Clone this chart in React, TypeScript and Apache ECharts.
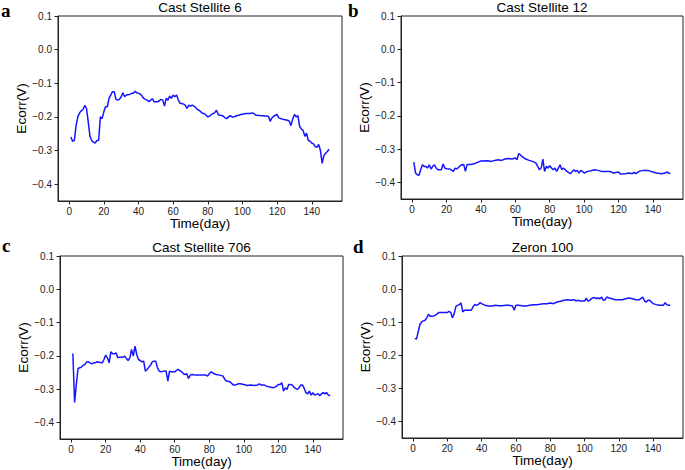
import React, { useEffect, useRef } from "react";
import * as echarts from "echarts";

// ---------- data ----------
const xTicks = [0, 20, 40, 60, 80, 100, 120, 140];
const yTicks = [-0.4, -0.3, -0.2, -0.1, 0.0, 0.1];
const panelTitles = ["Cast Stellite 6", "Cast Stellite 12", "Cast Stellite 706", "Zeron 100"];
const panelLetters = ["a", "b", "c", "d"];

const daysA = [1,2,3,4,5,6,7,8,9,10,11,12,13,14,15,16,17,18,19,20,21,22,23,24,25,26,27,28,29,30,31,32,33,34,35,36,37,38,39,40,41,42,43,44,45,46,47,48,49,50,51,52,53,54,55,56,57,58,59,60,61,62,63,64,65,66,67,68,69,70,71,72,73,74,75,76,77,78,79,80,81,82,83,84,85,86,87,88,89,90,91,92,93,94,95,96,97,98,99,100,102,104,106,107,108,110,113,115,116,117,118,119,120,121,122,124,126,127,128,129,130,131,132,133,134,135,136,137,138,139,140,141,142,143,144,145,146,147,148,149,150];
const valsA = [-0.260,-0.273,-0.270,-0.225,-0.200,-0.188,-0.182,-0.178,-0.166,-0.175,-0.215,-0.258,-0.270,-0.275,-0.278,-0.270,-0.270,-0.200,-0.205,-0.185,-0.170,-0.170,-0.145,-0.135,-0.125,-0.125,-0.148,-0.150,-0.148,-0.140,-0.128,-0.140,-0.135,-0.134,-0.133,-0.130,-0.130,-0.124,-0.128,-0.130,-0.132,-0.138,-0.145,-0.148,-0.150,-0.155,-0.150,-0.146,-0.155,-0.155,-0.155,-0.152,-0.148,-0.150,-0.168,-0.145,-0.150,-0.138,-0.145,-0.135,-0.140,-0.135,-0.150,-0.160,-0.160,-0.162,-0.165,-0.175,-0.165,-0.168,-0.165,-0.168,-0.172,-0.178,-0.180,-0.185,-0.190,-0.190,-0.195,-0.200,-0.198,-0.193,-0.190,-0.188,-0.180,-0.193,-0.195,-0.196,-0.198,-0.203,-0.205,-0.200,-0.196,-0.200,-0.200,-0.198,-0.196,-0.195,-0.193,-0.192,-0.190,-0.190,-0.188,-0.192,-0.195,-0.196,-0.197,-0.198,-0.213,-0.203,-0.198,-0.195,-0.193,-0.203,-0.205,-0.208,-0.210,-0.212,-0.226,-0.206,-0.193,-0.200,-0.196,-0.228,-0.236,-0.240,-0.258,-0.248,-0.270,-0.272,-0.278,-0.280,-0.288,-0.290,-0.282,-0.300,-0.338,-0.315,-0.308,-0.303,-0.296];

const daysB = [1,2,3,4,5,6,7,8,9,10,11,12,13,14,15,16,17,18,19,20,22,24,25,26,28,29,30,31,32,34,36,38,40,44,46,48,50,52,54,56,58,60,61,62,63,64,66,68,70,72,73,74,75,76,77,78,79,80,81,82,83,84,85,86,87,88,89,90,92,94,95,96,97,98,99,100,102,104,106,108,110,112,115,117,120,121,124,126,128,129,130,132,134,137,140,142,145,147,148,150];
const valsB = [-0.339,-0.372,-0.377,-0.379,-0.362,-0.347,-0.352,-0.352,-0.357,-0.347,-0.360,-0.352,-0.347,-0.357,-0.362,-0.362,-0.362,-0.345,-0.357,-0.359,-0.360,-0.367,-0.357,-0.360,-0.350,-0.347,-0.346,-0.367,-0.346,-0.346,-0.344,-0.340,-0.336,-0.335,-0.337,-0.334,-0.332,-0.334,-0.330,-0.328,-0.330,-0.327,-0.332,-0.313,-0.318,-0.323,-0.330,-0.334,-0.337,-0.342,-0.352,-0.362,-0.357,-0.330,-0.367,-0.352,-0.357,-0.350,-0.357,-0.362,-0.357,-0.367,-0.357,-0.347,-0.362,-0.357,-0.362,-0.367,-0.374,-0.362,-0.367,-0.364,-0.372,-0.364,-0.367,-0.372,-0.367,-0.365,-0.362,-0.364,-0.367,-0.367,-0.367,-0.372,-0.369,-0.375,-0.374,-0.372,-0.374,-0.370,-0.374,-0.367,-0.364,-0.364,-0.369,-0.372,-0.374,-0.372,-0.369,-0.374];

const daysC = [1,2,3,4,5,6,7,8,9,10,11,12,13,14,15,16,18,19,20,21,22,23,24,25,26,27,28,30,31,32,33,34,35,36,37,38,39,40,41,42,43,44,45,46,47,48,49,50,51,52,54,55,56,57,58,60,61,62,64,65,66,67,68,69,70,72,74,76,78,79,80,81,83,84,86,88,89,90,92,94,95,97,98,100,102,104,106,108,109,110,112,113,115,117,118,119,120,121,122,123,124,125,126,127,128,129,130,131,132,133,134,135,136,137,138,139,140,141,142,143,144,145,146,147,148,149,150];
const valsC = [-0.193,-0.340,-0.286,-0.238,-0.236,-0.234,-0.228,-0.226,-0.218,-0.218,-0.221,-0.224,-0.221,-0.221,-0.218,-0.219,-0.221,-0.211,-0.198,-0.206,-0.221,-0.188,-0.194,-0.194,-0.191,-0.206,-0.204,-0.204,-0.201,-0.208,-0.214,-0.206,-0.181,-0.201,-0.171,-0.196,-0.211,-0.214,-0.218,-0.216,-0.246,-0.241,-0.234,-0.228,-0.218,-0.216,-0.216,-0.236,-0.246,-0.248,-0.246,-0.246,-0.276,-0.246,-0.248,-0.248,-0.244,-0.241,-0.248,-0.254,-0.256,-0.254,-0.268,-0.258,-0.256,-0.258,-0.258,-0.258,-0.258,-0.261,-0.254,-0.248,-0.254,-0.256,-0.258,-0.261,-0.271,-0.276,-0.278,-0.288,-0.288,-0.284,-0.284,-0.286,-0.289,-0.288,-0.289,-0.288,-0.284,-0.288,-0.288,-0.291,-0.294,-0.296,-0.294,-0.291,-0.286,-0.286,-0.281,-0.306,-0.296,-0.301,-0.286,-0.286,-0.288,-0.294,-0.298,-0.301,-0.296,-0.288,-0.288,-0.298,-0.311,-0.314,-0.306,-0.318,-0.311,-0.318,-0.316,-0.314,-0.320,-0.314,-0.311,-0.314,-0.311,-0.318,-0.320];

const daysD = [1,2,3,4,5,6,7,8,9,10,11,12,13,14,15,16,18,20,21,22,23,24,25,26,27,28,29,30,32,34,35,36,37,38,39,40,42,44,46,48,50,52,54,56,58,59,60,62,64,66,68,70,72,74,76,78,80,82,84,86,88,90,92,94,95,96,98,100,101,102,103,104,105,106,107,108,109,110,111,112,113,114,116,118,120,122,124,126,128,130,132,134,135,136,137,138,139,140,142,144,146,147,148,149,150];
const valsD = [-0.149,-0.151,-0.129,-0.107,-0.099,-0.096,-0.094,-0.087,-0.076,-0.082,-0.082,-0.081,-0.079,-0.075,-0.071,-0.071,-0.071,-0.071,-0.067,-0.071,-0.087,-0.074,-0.052,-0.049,-0.047,-0.042,-0.069,-0.064,-0.064,-0.064,-0.054,-0.046,-0.049,-0.047,-0.041,-0.044,-0.049,-0.051,-0.051,-0.049,-0.050,-0.050,-0.049,-0.049,-0.051,-0.064,-0.049,-0.049,-0.051,-0.051,-0.049,-0.047,-0.047,-0.046,-0.044,-0.044,-0.042,-0.044,-0.039,-0.037,-0.034,-0.032,-0.034,-0.032,-0.036,-0.034,-0.036,-0.036,-0.027,-0.036,-0.034,-0.029,-0.026,-0.026,-0.029,-0.027,-0.029,-0.024,-0.034,-0.032,-0.024,-0.026,-0.029,-0.032,-0.032,-0.032,-0.029,-0.027,-0.029,-0.032,-0.032,-0.024,-0.036,-0.039,-0.034,-0.034,-0.039,-0.044,-0.047,-0.049,-0.049,-0.041,-0.047,-0.049,-0.049];

const panelDays = [daysA, daysB, daysC, daysD];
const panelVals = [valsA, valsB, valsC, valsD];

// ---------- layout ----------
const grids = [
  { left: 58, top: 16, width: 284, height: 185 },
  { left: 401, top: 16, width: 282, height: 183 },
  { left: 60, top: 256, width: 283, height: 183 },
  { left: 402, top: 256, width: 281, height: 182 },
];
const letterPos = [
  [1, 10],
  [348, 10],
  [2, 245.5],
  [353, 246.5],
];

const FONT = "'Liberation Sans', Arial, sans-serif";
const fmtY = (v: number) => {
  const s = Math.abs(v) < 1e-9 ? "0.0" : v.toFixed(1);
  return s.replace("-", "\u2212");
};

export default function App() {
  const ref = useRef<HTMLDivElement>(null);
  useEffect(() => {
    if (!ref.current) return;
    const chart = echarts.init(ref.current, undefined, { renderer: "svg" });
    const axisLineStyle = { color: "#222", width: 1 };
    const option: any = {
      animation: false,
      backgroundColor: "#fff",
      grid: grids.map((g) => ({
        ...g,
        show: true,
        borderColor: "#222",
        borderWidth: 1,
        backgroundColor: "transparent",
        containLabel: false,
      })),
      xAxis: grids.map((_, i) => ({
        type: "value",
        gridIndex: i,
        min: -6.45,
        max: 157.45,
        name: "Time(day)",
        nameLocation: "middle",
        nameGap: 14,
        nameTextStyle: { fontFamily: FONT, fontSize: 13.5, color: "#000" },
        axisLine: { show: true, onZero: false, lineStyle: axisLineStyle },
        axisTick: { show: true, inside: false, length: 3.5, lineStyle: axisLineStyle, customValues: xTicks },
        axisLabel: {
          show: true,
          fontFamily: FONT,
          fontSize: 10,
          color: "#222",
          margin: 5,
          customValues: xTicks,
          formatter: (v: number) => String(v),
        },
        splitLine: { show: false },
      })),
      yAxis: grids.map((_, i) => ({
        type: "value",
        gridIndex: i,
        min: -0.45,
        max: 0.1,
        name: "Ecorr(V)",
        nameLocation: "middle",
        nameRotate: 90,
        nameGap: 28,
        nameTextStyle: { fontFamily: FONT, fontSize: 13.5, color: "#000" },
        axisLine: { show: true, onZero: false, lineStyle: axisLineStyle },
        axisTick: { show: true, inside: false, length: 3.5, lineStyle: axisLineStyle, customValues: yTicks },
        axisLabel: {
          show: true,
          fontFamily: FONT,
          fontSize: 10,
          color: "#222",
          margin: 6,
          customValues: yTicks,
          formatter: fmtY,
        },
        splitLine: { show: false },
      })),
      series: panelDays.map((days, i) => ({
        type: "line",
        xAxisIndex: i,
        yAxisIndex: i,
        data: days.map((d, j) => [d, panelVals[i][j]]),
        showSymbol: false,
        symbol: "none",
        lineStyle: { color: "#1515ff", width: 1.5 },
        itemStyle: { color: "#1515ff" },
      })),
      graphic: [
        ...grids.map((g, i) => ({
          type: "text",
          x: g.left + g.width / 2,
          y: g.top - 9,
          style: {
            text: panelTitles[i],
            font: `13.5px ${FONT}`,
            fill: "#000",
            textAlign: "center",
            textVerticalAlign: "middle",
          },
        })),
        ...letterPos.map((p, i) => ({
          type: "text",
          x: p[0],
          y: p[1],
          style: {
            text: panelLetters[i],
            font: `bold 19px 'Liberation Serif', 'Times New Roman', serif`,
            fill: "#000",
            textAlign: "left",
            textVerticalAlign: "middle",
          },
        })),
      ],
    };
    chart.setOption(option);
    return () => chart.dispose();
  }, []);
  return (
    <div
      ref={ref}
      style={{ position: "absolute", left: 0, top: 0, width: 685, height: 470, background: "#fff" }}
    />
  );
}
